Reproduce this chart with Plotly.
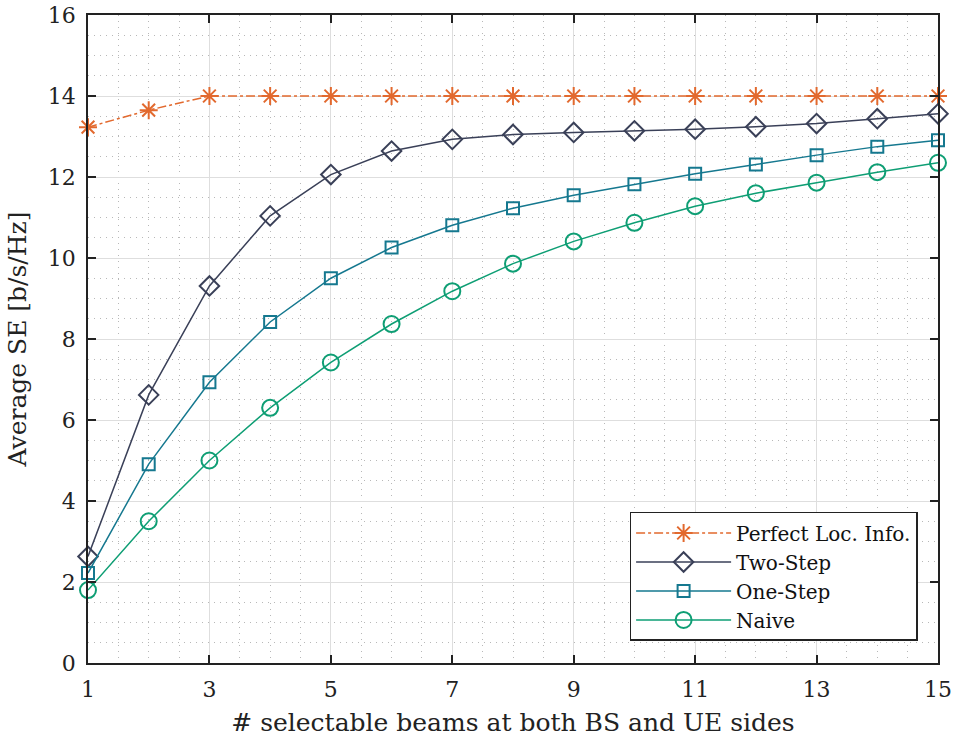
import plotly.graph_objects as go

beams = list(range(1, 16))
perfect = [13.23, 13.65, 14.0, 14.0, 14.0, 14.0, 14.0, 14.0, 14.0, 14.0, 14.0, 14.0, 14.0, 14.0, 14.0]
two_step = [2.63, 6.62, 9.31, 11.04, 12.06, 12.64, 12.93, 13.05, 13.10, 13.14, 13.18, 13.24, 13.32, 13.44, 13.56]
one_step = [2.22, 4.91, 6.93, 8.42, 9.50, 10.26, 10.81, 11.23, 11.55, 11.82, 12.08, 12.31, 12.54, 12.75, 12.91]
naive = [1.80, 3.50, 5.00, 6.30, 7.42, 8.37, 9.18, 9.86, 10.41, 10.87, 11.28, 11.60, 11.86, 12.12, 12.35]

x_ticks = [1, 3, 5, 7, 9, 11, 13, 15]
y_ticks = [0, 2, 4, 6, 8, 10, 12, 14, 16]

FONT = "DejaVu Serif"
c_perf = "#E2692E"
c_two = "#3A4058"
c_one = "#15788F"
c_naive = "#0E9E74"

fig = go.Figure()
fig.add_trace(go.Scatter(
    x=beams, y=perfect, name="Perfect Loc. Info.", mode="lines+markers",
    line=dict(color=c_perf, width=1.5, dash="dashdot"),
    marker=dict(symbol="asterisk-open", size=15, line=dict(color=c_perf, width=2)),
    cliponaxis=False))
fig.add_trace(go.Scatter(
    x=beams, y=two_step, name="Two-Step", mode="lines+markers",
    line=dict(color=c_two, width=1.5),
    marker=dict(symbol="diamond-open", size=15, color=c_two, line=dict(color=c_two, width=2)),
    cliponaxis=False))
fig.add_trace(go.Scatter(
    x=beams, y=one_step, name="One-Step", mode="lines+markers",
    line=dict(color=c_one, width=1.5),
    marker=dict(symbol="square-open", size=12, color=c_one, line=dict(color=c_one, width=2)),
    cliponaxis=False))
fig.add_trace(go.Scatter(
    x=beams, y=naive, name="Naive", mode="lines+markers",
    line=dict(color=c_naive, width=1.5),
    marker=dict(symbol="circle-open", size=16, color=c_naive, line=dict(color=c_naive, width=2)),
    cliponaxis=False))

axis_common = dict(
    showline=True, linecolor="#222222", linewidth=1.5, mirror="ticks",
    ticks="inside", ticklen=8, tickwidth=1.5, tickcolor="#222222",
    showgrid=True, gridcolor="#dedede", gridwidth=1.2,
    tickfont=dict(family=FONT, size=22, color="#222222"),
    zeroline=False, automargin=False,
    minor=dict(dtick=0.5, showgrid=True, gridcolor="#b8b8b8", griddash="1px,5px", gridwidth=1.3, ticks=""),
)

fig.update_layout(
    width=954, height=747,
    margin=dict(l=88, r=16, t=15, b=84),
    paper_bgcolor="white", plot_bgcolor="white",
    font=dict(family=FONT, color="#222222"),
    xaxis=dict(range=[1, 15], tickvals=x_ticks,
               title=dict(text="# selectable beams at both BS and UE sides",
                          font=dict(family=FONT, size=25), standoff=12),
               ticklabelstandoff=6,
               **axis_common),
    yaxis=dict(range=[0, 16], tickvals=y_ticks,
               title=dict(text="Average SE [b/s/Hz]", font=dict(family=FONT, size=25), standoff=14),
               ticklabelstandoff=6,
               **axis_common),
    legend=dict(x=0.976, y=0.034, xanchor="right", yanchor="bottom",
                bgcolor="white", bordercolor="#222222", borderwidth=1.5,
                font=dict(family=FONT, size=20, color="#111111"),
                tracegroupgap=0, itemwidth=95),
    showlegend=True,
)

fig.write_html("out.html", config={"displayModeBar": False},
               post_script="document.body.style.margin='0';")
